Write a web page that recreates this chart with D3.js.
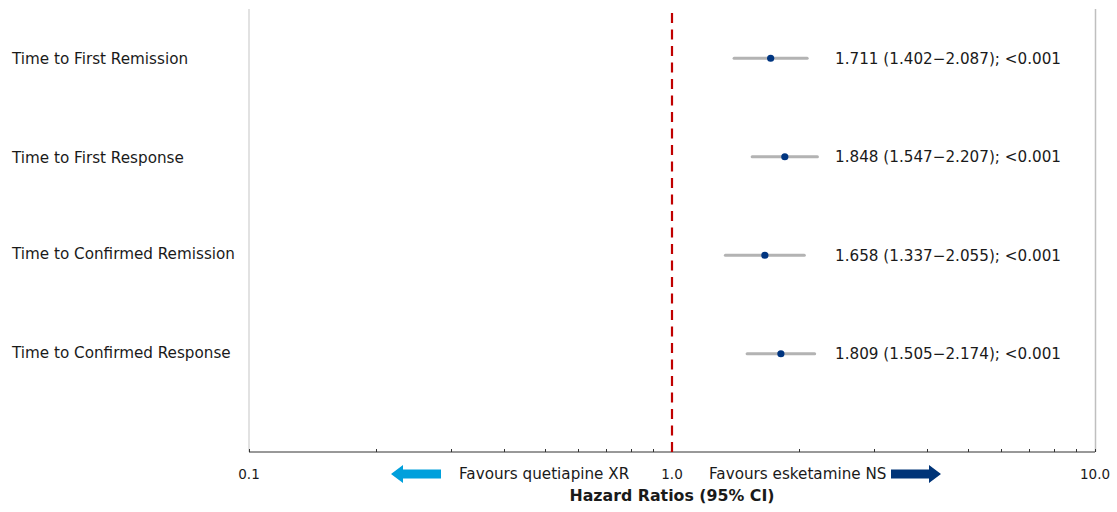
<!DOCTYPE html>
<html>
<head>
<meta charset="utf-8">
<script src="https://cdn.jsdelivr.net/npm/d3@7"></script>
<style>
  body { margin: 0; background: #fff; }
  text { font-family: "DejaVu Sans", Verdana, sans-serif; fill: #1a1a1a; }
</style>
</head>
<body>
<div id="chart"></div>
<script>
// outcomes and hazard ratios
const outcomes = ["Time to First Remission", "Time to First Response", "Time to Confirmed Remission", "Time to Confirmed Response"];
const hr = [1.711, 1.848, 1.658, 1.809];
const lower = [1.402, 1.547, 1.337, 1.505];
const upper = [2.087, 2.207, 2.055, 2.174];
const pValues = ["<0.001", "<0.001", "<0.001", "<0.001"];
const tickLabels = [0.1, 1.0, 10.0];

const W = 1117, H = 512;
const svg = d3.select("#chart").append("svg")
    .attr("width", W).attr("height", H);

const x = d3.scaleLog().domain([0.1, 10]).range([249, 1095]);
const y = d3.scaleBand().domain(outcomes).range([10, 404]);
const axisY = 452;

// side borders
svg.append("line").attr("x1", 249).attr("x2", 249).attr("y1", 9).attr("y2", axisY)
    .attr("stroke", "#d9d9d9").attr("stroke-width", 1.5);
svg.append("line").attr("x1", 1095.5).attr("x2", 1095.5).attr("y1", 9).attr("y2", axisY)
    .attr("stroke", "#bfbfbf").attr("stroke-width", 1.5);

// bottom axis with minor ticks
const minor = d3.range(2, 10).map(d => d / 10).concat(d3.range(2, 10));
const ax = svg.append("g").attr("transform", `translate(0,${axisY})`);
ax.append("line").attr("x1", 249).attr("x2", 1095).attr("stroke", "#333").attr("stroke-width", 1);
ax.selectAll(".mt").data(minor.concat(tickLabels)).join("line")
    .attr("x1", d => Math.round(x(d)) + 0.5).attr("x2", d => Math.round(x(d)) + 0.5)
    .attr("y1", -3).attr("y2", 0)
    .attr("stroke", "#333");
ax.selectAll(".tl").data(tickLabels).join("text")
    .attr("x", d => x(d)).attr("y", 27)
    .attr("text-anchor", "middle")
    .style("font-size", "13.5px")
    .text(d => d.toFixed(1));

// reference line at 1
svg.append("line").attr("x1", x(1)).attr("x2", x(1)).attr("y1", 13).attr("y2", axisY)
    .attr("stroke", "#c00000").attr("stroke-width", 2.2)
    .attr("stroke-dasharray", "10,6.5");

// row labels
svg.selectAll(".lab").data(outcomes).join("text")
    .attr("x", 12).attr("y", (d, i) => y(d) + y.bandwidth() / 2 + 5 - (i > 1 ? 2 : 0))
    .style("font-size", "15.2px")
    .text(d => d);

const rows = outcomes.map((o, i) => ({ o, hr: hr[i], lo: lower[i], hi: upper[i], p: pValues[i] }));

// CI lines
svg.selectAll(".ci").data(rows).join("line")
    .attr("x1", d => x(d.lo)).attr("x2", d => x(d.hi))
    .attr("y1", d => y(d.o) + y.bandwidth() / 2 - 1)
    .attr("y2", d => y(d.o) + y.bandwidth() / 2 - 1)
    .attr("stroke", "#b3b3b3").attr("stroke-width", 3).attr("stroke-linecap", "round");

svg.selectAll(".pt").data(rows).join("circle")
    .attr("cx", d => x(d.hr)).attr("cy", d => y(d.o) + y.bandwidth() / 2 - 1)
    .attr("r", 3.6).attr("fill", "#003580");

svg.selectAll(".val").data(rows).join("text")
    .attr("x", 835).attr("y", d => y(d.o) + y.bandwidth() / 2 + 4.5)
    .style("font-size", "15.2px")
    .text(d => `${d.hr.toFixed(3)} (${d.lo.toFixed(3)}\u2212${d.hi.toFixed(3)}); ${d.p}`);

// favours arrows
const arrow = (x0, x1, yy, col) => {
  const dir = Math.sign(x1 - x0), hl = 12 * dir;
  const pts = [[x0, yy - 4.5], [x1 - hl, yy - 4.5], [x1 - hl, yy - 9], [x1, yy], [x1 - hl, yy + 9], [x1 - hl, yy + 4.5], [x0, yy + 4.5]];
  svg.append("path").attr("d", d3.line()(pts) + "Z").attr("fill", col);
};
arrow(441, 391, 474, "#00a0dc");
arrow(891, 941, 474, "#003478");

svg.append("text").attr("x", 459).attr("y", 479).style("font-size", "15.2px").text("Favours quetiapine XR");
svg.append("text").attr("x", 709).attr("y", 479).style("font-size", "15.2px").text("Favours esketamine NS");

svg.append("text").attr("x", x(1)).attr("y", 501).attr("text-anchor", "middle")
    .style("font-size", "15.8px").style("font-weight", "bold")
    .text("Hazard Ratios (95% CI)");
</script>
</body>
</html>
